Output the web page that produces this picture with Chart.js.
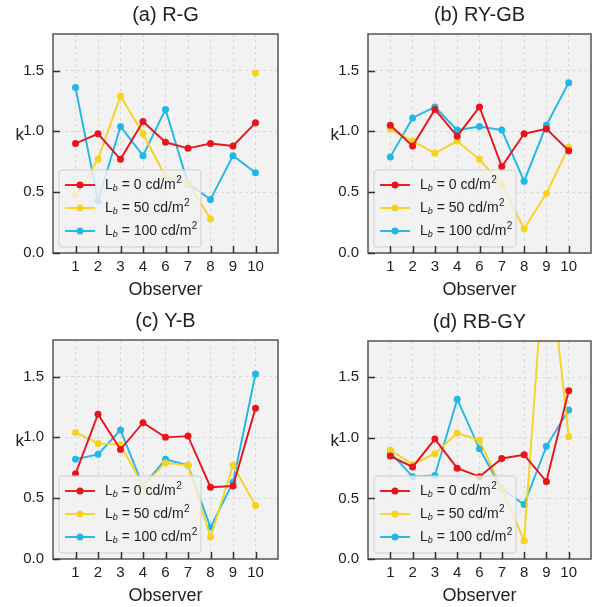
<!DOCTYPE html>
<html>
<head>
<meta charset="utf-8">
<script src="https://cdn.jsdelivr.net/npm/chart.js@4.4.1/dist/chart.umd.min.js"></script>
<style>
body { margin: 0; background: #fff; }
#wrap { position: relative; width: 595px; height: 607px; }
canvas { position: absolute; }
</style>
</head>
<body>
<div id="wrap">
  <canvas id="pa"></canvas>
  <canvas id="pb"></canvas>
  <canvas id="pc"></canvas>
  <canvas id="pd"></canvas>
</div>
<script>
// observers on the x axis (no observer 5)
var observers = ['1', '2', '3', '4', '6', '7', '8', '9', '10'];
var yTicks = [0, 0.5, 1.0, 1.5];
var backgrounds = ['0', '50', '100'];   // L_b in cd/m2
var colors = ['#e8141c', '#f7d31e', '#21b6e8'];

// (a) R-G
var rgL0   = [0.90, 0.98, 0.77, 1.08, 0.91, 0.86, 0.90, 0.88, 1.07];
var rgL50  = [0.47, 0.77, 1.29, 0.98, 0.63, 0.58, 0.28, null, 1.48];
var rgL100 = [1.36, 0.43, 1.04, 0.80, 1.18, 0.57, 0.44, 0.80, 0.66];

// (b) RY-GB
var rygbL0   = [1.05, 0.88, 1.18, 0.96, 1.20, 0.71, 0.98, 1.02, 0.84];
var rygbL50  = [1.02, 0.92, 0.82, 0.92, 0.77, 0.56, 0.20, 0.49, 0.87];
var rygbL100 = [0.79, 1.11, 1.20, 1.01, 1.04, 1.01, 0.59, 1.05, 1.40];

// (c) Y-B
var ybL0   = [0.70, 1.19, 0.90, 1.12, 1.00, 1.01, 0.59, 0.60, 1.24];
var ybL50  = [1.04, 0.95, 0.94, 0.60, 0.79, 0.77, 0.18, 0.77, 0.44];
var ybL100 = [0.82, 0.86, 1.06, 0.60, 0.82, 0.77, 0.26, 0.63, 1.52];

// (d) RB-GY
var rbgyL0   = [0.85, 0.76, 0.99, 0.75, 0.68, 0.83, 0.86, 0.64, 1.39];
var rbgyL50  = [0.90, 0.78, 0.87, 1.04, 0.98, 0.58, 0.15, 2.70, 1.01];
var rbgyL100 = [0.88, 0.68, 0.69, 1.32, 0.91, 0.58, 0.45, 0.93, 1.23];

var FONT = '"Liberation Sans", Arial, sans-serif';

var panels = [
  { id: 'pa', title: '(a) R-G',   series: [rgL0, rgL50, rgL100],       left: 0,   top: 0,   w: 297, h: 303, area: [53, 34, 278, 253] },
  { id: 'pb', title: '(b) RY-GB', series: [rygbL0, rygbL50, rygbL100], left: 297, top: 0,   w: 298, h: 303, area: [71, 34, 294, 253] },
  { id: 'pc', title: '(c) Y-B',   series: [ybL0, ybL50, ybL100],       left: 0,   top: 303, w: 297, h: 304, area: [53, 37, 278, 256] },
  { id: 'pd', title: '(d) RB-GY', series: [rbgyL0, rbgyL50, rbgyL100], left: 297, top: 303, w: 298, h: 304, area: [71, 38, 294, 256] }
];

function legendLabel(ctx, x, y, num) {
  ctx.textAlign = 'left';
  ctx.textBaseline = 'middle';
  ctx.fillStyle = '#222';
  ctx.font = '14px ' + FONT;
  ctx.fillText('L', x, y);
  x += ctx.measureText('L').width;
  ctx.font = 'italic 9px ' + FONT;
  ctx.fillText('b', x, y + 3);
  x += ctx.measureText('b').width;
  ctx.font = '14px ' + FONT;
  var s = ' = ' + num + ' cd/m';
  ctx.fillText(s, x, y);
  x += ctx.measureText(s).width;
  ctx.font = '10px ' + FONT;
  ctx.fillText('2', x + 0.5, y - 5);
}

var panelPlugin = {
  id: 'panelDeco',
  beforeDraw: function(chart) {
    var a = chart.chartArea, ctx = chart.ctx;
    ctx.save();
    ctx.fillStyle = '#f2f2f2';
    ctx.fillRect(a.left, a.top, a.right - a.left, a.bottom - a.top);
    ctx.restore();
  },
  afterDatasetsDraw: function(chart) {
    var a = chart.chartArea, ctx = chart.ctx;
    var xs = chart.scales.x, ys = chart.scales.y;
    ctx.save();

    // legend box, lower left
    var bx = a.left + 6, bw = 142, bh = 77, by = a.bottom - 6 - bh;
    ctx.beginPath();
    ctx.roundRect(bx, by, bw, bh, 3);
    ctx.fillStyle = 'rgba(242,242,242,0.82)';
    ctx.fill();
    ctx.strokeStyle = '#cfcfcf';
    ctx.lineWidth = 1;
    ctx.stroke();
    for (var i = 0; i < backgrounds.length; i++) {
      var ry = by + 15 + i * 23;
      ctx.strokeStyle = colors[i];
      ctx.lineWidth = 1.9;
      ctx.beginPath();
      ctx.moveTo(bx + 6, ry);
      ctx.lineTo(bx + 36, ry);
      ctx.stroke();
      ctx.fillStyle = colors[i];
      ctx.beginPath();
      ctx.arc(bx + 21, ry, 3.5, 0, Math.PI * 2);
      ctx.fill();
      legendLabel(ctx, bx + 46, ry, backgrounds[i]);
    }

    // frame
    ctx.strokeStyle = '#555';
    ctx.lineWidth = 1.5;
    ctx.strokeRect(a.left, a.top, a.right - a.left, a.bottom - a.top);

    // inward ticks
    ctx.strokeStyle = '#333';
    ctx.lineWidth = 1.5;
    ctx.beginPath();
    for (var j = 0; j < observers.length; j++) {
      var px = Math.round(xs.getPixelForValue(j + 1)) + 0.5;
      ctx.moveTo(px, a.bottom);
      ctx.lineTo(px, a.bottom - 7);
    }
    yTicks.forEach(function(v) {
      var py = Math.round(ys.getPixelForValue(v)) + 0.5;
      ctx.moveTo(a.left, py);
      ctx.lineTo(a.left + 7, py);
    });
    ctx.stroke();
    ctx.restore();
  },
  afterDraw: function(chart) {
    var a = chart.chartArea, ctx = chart.ctx;
    var cx = (a.left + a.right) / 2;
    ctx.save();
    ctx.fillStyle = '#222';
    ctx.textAlign = 'center';
    ctx.textBaseline = 'middle';
    ctx.font = '20px ' + FONT;
    ctx.fillText(chart.options.plugins.panelDeco.title, cx, a.top - 19);
    ctx.font = '18px ' + FONT;
    ctx.fillText('Observer', cx, a.bottom + 37);
    ctx.font = '17px ' + FONT;
    ctx.textAlign = 'right';
    ctx.textBaseline = 'alphabetic';
    ctx.fillText('k', a.left - 29, (a.top + a.bottom) / 2 - 4);
    ctx.restore();
  }
};

panels.forEach(function(p) {
  var cv = document.getElementById(p.id);
  cv.width = p.w;
  cv.height = p.h;
  cv.style.left = p.left + 'px';
  cv.style.top = p.top + 'px';
  cv.style.width = p.w + 'px';
  cv.style.height = p.h + 'px';

  var datasets = [];
  for (var i = 0; i < p.series.length; i++) {
    datasets.push({
      label: 'Lb = ' + backgrounds[i] + ' cd/m2',
      data: p.series[i].map(function(v, k) { return { x: k + 1, y: v }; }),
      borderColor: colors[i],
      backgroundColor: colors[i],
      pointBackgroundColor: colors[i],
      pointBorderWidth: 0,
      pointRadius: 3.5,
      borderWidth: 1.9,
      spanGaps: false,
      tension: 0
    });
  }

  new Chart(cv, {
    type: 'line',
    data: { datasets: datasets },
    plugins: [panelPlugin],
    options: {
      responsive: false,
      animation: false,
      layout: { padding: { left: 0, top: p.area[1], right: p.w - p.area[2], bottom: 0 } },
      plugins: {
        legend: { display: false },
        tooltip: { enabled: false },
        panelDeco: { title: p.title }
      },
      scales: {
        x: {
          type: 'linear',
          min: 0,
          max: 10,
          afterBuildTicks: function(s) {
            s.ticks = observers.map(function(o, k) { return { value: k + 1 }; });
          },
          afterFit: function(s) { s.height = p.h - p.area[3]; },
          ticks: {
            callback: function(v) { return observers[v - 1] || ''; },
            font: { family: FONT, size: 15 },
            color: '#222',
            padding: 5,
            maxRotation: 0,
            autoSkip: false
          },
          grid: { color: '#d4d4d4', lineWidth: 0.8, drawTicks: false },
          border: { display: false, dash: [3, 3] }
        },
        y: {
          min: 0,
          max: 1.8,
          afterBuildTicks: function(s) {
            s.ticks = yTicks.map(function(v) { return { value: v }; });
          },
          afterFit: function(s) { s.width = p.area[0]; },
          ticks: {
            callback: function(v) { return v.toFixed(1); },
            font: { family: FONT, size: 15 },
            color: '#222',
            padding: 9
          },
          grid: { color: '#d4d4d4', lineWidth: 0.8, drawTicks: false },
          border: { display: false, dash: [3, 3] }
        }
      }
    }
  });
});
</script>
</body>
</html>
